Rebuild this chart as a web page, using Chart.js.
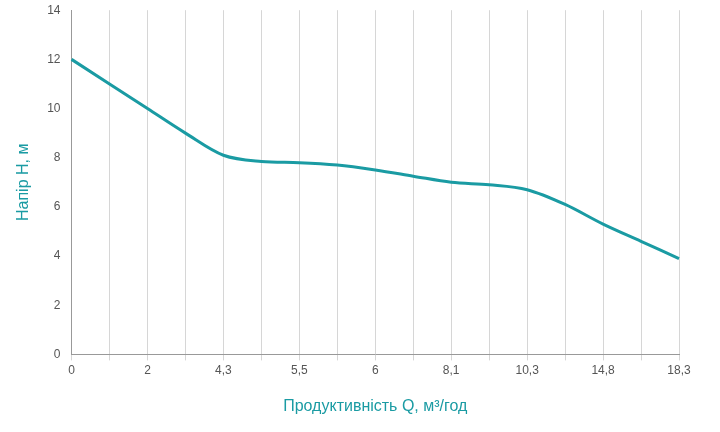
<!DOCTYPE html>
<html><head><meta charset="utf-8">
<script src="https://cdn.jsdelivr.net/npm/chart.js@4"></script>
<style>html,body{margin:0;padding:0;background:#fff}#w{width:720px;height:432px}</style>
</head><body><div id="w"><canvas id="c"></canvas></div>
<script>
const tickLabels = ["0","","2","","4,3","","5,5","","6","","8,1","","10,3","","14,8","","18,3"];
const headValues = [12,11,10,9,8.1,7.85,7.8,7.7,7.5,7.25,7.0,6.9,6.7,6.1,5.3,4.6,3.9];
const teal = "#1a9ba3";
new Chart(document.getElementById('c'), {
  type: 'line',
  data: { labels: tickLabels, datasets: [{ data: headValues, borderColor: teal, borderWidth: 3, pointRadius: 0, cubicInterpolationMode: 'monotone', fill: false }] },
  options: {
    responsive: true, maintainAspectRatio: false, animation: false,
    layout: { padding: { top: 9, right: 41, left: 10, bottom: 12 } },
    plugins: { legend: { display: false }, tooltip: { enabled: false } },
    scales: {
      x: { offset: false,
        grid: { color: '#d6d6d6', drawTicks: true, tickLength: 6 },
        border: { color: '#999' },
        ticks: { autoSkip: false, maxRotation: 0, color: '#555', font: { family: 'Arial', size: 12 } },
        title: { display: true, text: 'Продуктивність Q, м³/год', color: teal, font: { family: 'Arial', size: 16 }, padding: { top: 16 } } },
      y: { min: 0, max: 14,
        grid: { display: false },
        border: { color: '#999' },
        ticks: { stepSize: 2, color: '#555', font: { family: 'Arial', size: 12 } },
        title: { display: true, text: 'Напір Н, м', color: teal, font: { family: 'Arial', size: 16 }, padding: { bottom: 11 } } }
    }
  }
});
</script></body></html>
